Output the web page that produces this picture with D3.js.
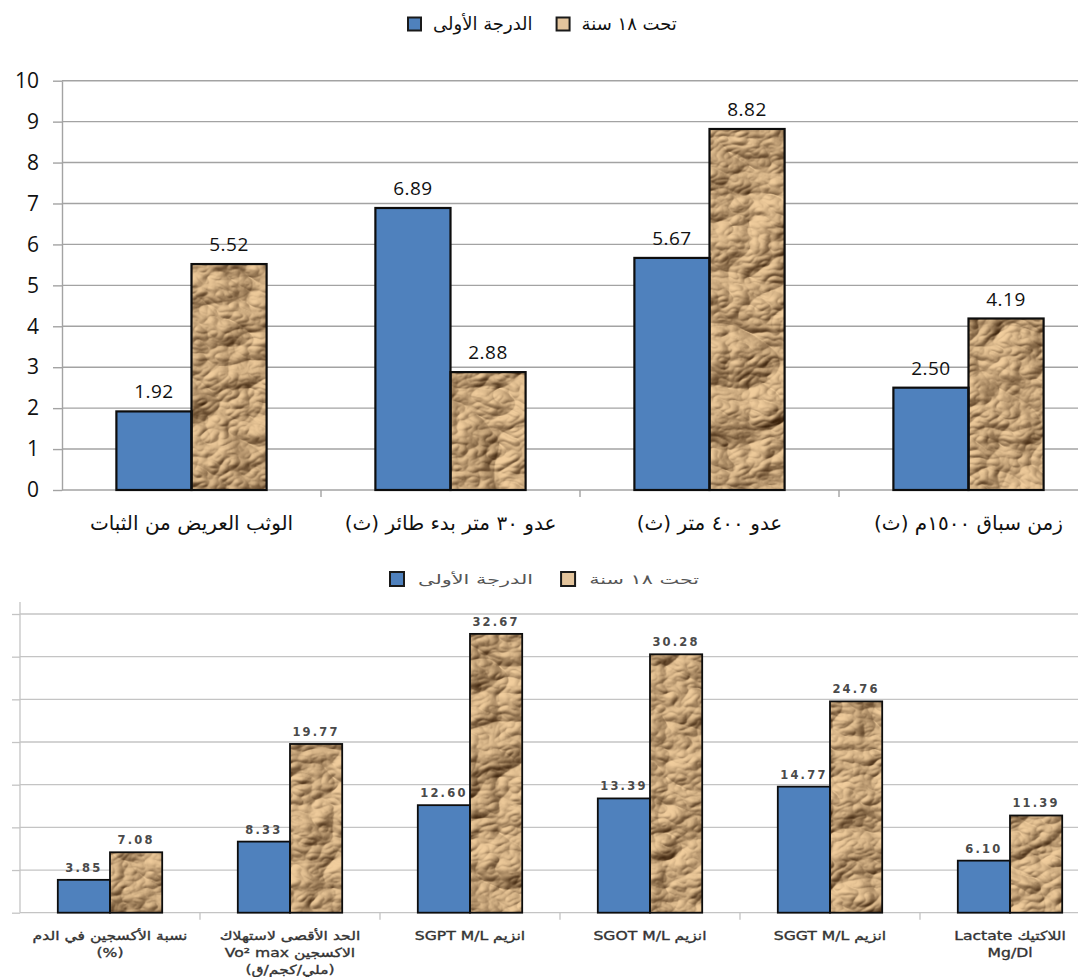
<!DOCTYPE html>
<html><head><meta charset="utf-8">
<script src="https://cdn.jsdelivr.net/npm/d3@7"></script>
<style>
html,body{margin:0;padding:0;background:#fff;overflow:hidden}
svg{display:block}
</style></head>
<body>
<script>
// ---------- DATA ----------
const seriesNames = ["الدرجة الأولى", "تحت ١٨ سنة"];

const topCategories = ["الوثب العريض من الثبات", "عدو ٣٠ متر بدء طائر (ث)", "عدو ٤٠٠ متر (ث)", "زمن سباق ١٥٠٠م (ث)"];
const topFirstDegree = [1.92, 6.89, 5.67, 2.50];
const topUnder18 = [5.52, 2.88, 8.82, 4.19];
const topTicks = [0, 1, 2, 3, 4, 5, 6, 7, 8, 9, 10];

const bottomCategories = ["O2", "VO2max", "SGPT", "SGOT", "SGGT", "Lactate"];
const bottomLabelLines = [
  ["نسبة الأكسجين في الدم", "(%)"],
  ["الحد الأقصى لاستهلاك", "الاكسجين Vo² max", "(ملي/كجم/ق)"],
  ["انزيم SGPT M/L"],
  ["انزيم SGOT M/L"],
  ["انزيم SGGT M/L"],
  ["اللاكتيك Lactate", "Mg/Dl"]
];
const bottomFirstDegree = [3.85, 8.33, 12.60, 13.39, 14.77, 6.10];
const bottomUnder18 = [7.08, 19.77, 32.67, 30.28, 24.76, 11.39];
const bottomTicks = [0, 5, 10, 15, 20, 25, 30, 35];

// ---------- SETUP ----------
const W = 1078, H = 977;
const AR = "'DejaVu Sans', 'Noto Sans', sans-serif";
const NUM = "'Open Sans', 'Noto Sans', sans-serif";
const BLUE = "#4f81bd";
const svg = d3.select("body").append("svg").attr("width", W).attr("height", H);
const defs = svg.append("defs");

const f = defs.append("filter").attr("id", "paper")
  .attr("filterUnits", "userSpaceOnUse").attr("x", 0).attr("y", 0).attr("width", W).attr("height", H)
  .attr("color-interpolation-filters", "sRGB");
f.append("feTurbulence").attr("type", "turbulence").attr("baseFrequency", "0.012 0.018")
  .attr("numOctaves", 4).attr("seed", 5).attr("result", "noise");
f.append("feDiffuseLighting").attr("in", "noise").attr("lighting-color", "#ffffff")
  .attr("surfaceScale", 10).attr("diffuseConstant", 1.0).attr("result", "light")
  .append("feDistantLight").attr("azimuth", 225).attr("elevation", 48);
const ct = f.append("feComponentTransfer").attr("in", "light").attr("result", "tint");
ct.append("feFuncR").attr("type", "table").attr("tableValues", "0.24 0.95");
ct.append("feFuncG").attr("type", "table").attr("tableValues", "0.14 0.81");
ct.append("feFuncB").attr("type", "table").attr("tableValues", "0.05 0.62");
f.append("feComposite").attr("in", "tint").attr("in2", "SourceAlpha").attr("operator", "in");

const clip = defs.append("clipPath").attr("id", "vp");
clip.append("rect").attr("x", 0).attr("y", 0).attr("width", W).attr("height", H);

function legend(g, cfg) {
  const items = g.selectAll("g.li").data(seriesNames).join("g").attr("class", "li");
  let x = cfg.x;
  items.each(function (name, i) {
    const it = d3.select(this);
    it.append("rect").attr("x", x).attr("y", cfg.y - cfg.sq / 2).attr("width", cfg.sq).attr("height", cfg.sq)
      .attr("fill", i === 0 ? BLUE : "#e3c49c").attr("stroke", "#1a1a1a").attr("stroke-width", cfg.sw);
    const tg = it.append("g");
    const t = tg.append("text").attr("x", 0).attr("y", 0).attr("dy", "0.35em").attr("direction", "rtl")
      .attr("text-anchor", "middle").attr("font-family", AR).attr("font-size", cfg.fs)
      .attr("fill", cfg.color).text(name);
    const w = t.node().getComputedTextLength() * cfg.sx;
    tg.attr("transform", `translate(${x + cfg.sq + cfg.gap + w / 2},${cfg.y}) scale(${cfg.sx},1)`);
    x = x + cfg.sq + cfg.gap + w + cfg.itemGap;
  });
}

function chart(cfg) {
  const g = svg.append("g").attr("clip-path", "url(#vp)");
  const x0 = d3.scaleBand().domain(cfg.categories).range([cfg.left, cfg.right])
    .paddingInner(0.42).paddingOuter(0.21);
  const x1 = d3.scaleBand().domain([0, 1]).range([0, x0.bandwidth()]);
  const y = d3.scaleLinear().domain(cfg.domain).range([cfg.bottom, cfg.top]);

  g.append("g").selectAll("line").data(cfg.ticks.filter(d => d > 0)).join("line")
    .attr("x1", cfg.left).attr("x2", W).attr("y1", d => y(d)).attr("y2", d => y(d))
    .attr("stroke", cfg.grid).attr("stroke-width", cfg.gridW);

  const ya = g.append("g").attr("transform", `translate(${cfg.left},0)`)
    .call(d3.axisLeft(y).tickValues(cfg.ticks).tickSize(cfg.tickLen).tickSizeOuter(0).tickPadding(cfg.tickPad)
      .tickFormat(cfg.showYLabels ? d3.format("d") : () => ""));
  ya.select(".domain").attr("stroke", cfg.grid).attr("stroke-width", cfg.gridW);
  if (cfg.axisTop !== undefined) ya.select(".domain").attr("d", `M0,${cfg.axisTop}V${cfg.bottom}`);
  ya.selectAll(".tick line").attr("stroke", cfg.grid).attr("stroke-width", cfg.gridW);
  ya.selectAll(".tick text").attr("font-family", NUM).attr("font-size", cfg.yfs).attr("fill", "#111");

  g.append("line").attr("x1", cfg.left).attr("x2", W).attr("y1", cfg.bottom).attr("y2", cfg.bottom)
    .attr("stroke", cfg.grid).attr("stroke-width", cfg.gridW);
  g.append("g").selectAll("line").data(cfg.categories.slice(1)).join("line")
    .attr("x1", d => x0(d) - x0.step() * x0.paddingInner() / 2)
    .attr("x2", d => x0(d) - x0.step() * x0.paddingInner() / 2)
    .attr("y1", cfg.bottom).attr("y2", cfg.bottom + 7)
    .attr("stroke", cfg.grid).attr("stroke-width", cfg.gridW);

  const rows = cfg.categories.map((c, i) => [
    { c, s: 0, v: cfg.a[i] }, { c, s: 1, v: cfg.b[i] }
  ]).flat();

  const bars = g.append("g");
  bars.selectAll("rect.fill").data(rows).join("rect").attr("class", "fill")
    .attr("x", d => x0(d.c) + x1(d.s)).attr("width", x1.bandwidth())
    .attr("y", d => y(d.v)).attr("height", d => y(0) - y(d.v))
    .attr("fill", d => d.s === 0 ? BLUE : "#c9a67c")
    .attr("filter", d => d.s === 1 ? "url(#paper)" : null);
  bars.selectAll("rect.edge").data(rows).join("rect").attr("class", "edge")
    .attr("x", d => x0(d.c) + x1(d.s)).attr("width", x1.bandwidth())
    .attr("y", d => y(d.v)).attr("height", d => y(0) - y(d.v))
    .attr("fill", "none").attr("stroke", "#0d0d0d").attr("stroke-width", cfg.barStroke);

  g.append("g").selectAll("text").data(rows).join("text")
    .attr("x", d => x0(d.c) + x1(d.s) + x1.bandwidth() / 2)
    .attr("y", d => y(d.v) - cfg.labelOff)
    .attr("text-anchor", "middle").attr("font-family", cfg.labelFont).attr("font-size", cfg.labelFs)
    .attr("font-weight", cfg.labelWeight).attr("letter-spacing", cfg.labelLS).attr("fill", cfg.labelColor)
    .text(d => d3.format(".2f")(d.v));

  return { g, x0, y };
}

// ---------- TOP CHART ----------
legend(svg.append("g"), { x: 408, y: 24, sq: 13, sw: 2, gap: 12, itemGap: 24, fs: 18, sx: 1, color: "#111" });

const topChart = chart({
  categories: topCategories, a: topFirstDegree, b: topUnder18, ticks: topTicks,
  domain: [0, 10], left: 62, right: 62 + 4 * 259, top: 80.7, bottom: 490,
  grid: "#a3a3a3", gridW: 1.4, tickLen: 9, tickPad: 14, yfs: 21, showYLabels: true,
  barStroke: 2.2, labelOff: 13, labelFont: NUM, labelFs: 19, labelWeight: 400, labelLS: 0.5, labelColor: "#111"
});
topChart.g.append("g").selectAll("text").data(topCategories).join("text")
  .attr("x", d => topChart.x0(d) + topChart.x0.bandwidth() / 2).attr("y", 530)
  .attr("direction", "rtl").attr("text-anchor", "middle")
  .attr("font-family", AR).attr("font-size", 20).attr("fill", "#111").text(d => d);

// ---------- BOTTOM CHART ----------
legend(svg.append("g"), { x: 390, y: 579, sq: 14, sw: 2, gap: 14, itemGap: 28, fs: 13, sx: 1.6, color: "#555" });

const botChart = chart({
  categories: bottomCategories, a: bottomFirstDegree, b: bottomUnder18, ticks: bottomTicks,
  domain: [0, 35], left: 20, right: 20 + 6 * 180, top: 614, bottom: 912.7, axisTop: 602,
  grid: "#c4c4c4", gridW: 1.3, tickLen: 8, tickPad: 4, yfs: 11, showYLabels: false,
  barStroke: 1.8, labelOff: 8, labelFont: "'DejaVu Sans', sans-serif", labelFs: 11.5, labelWeight: 700,
  labelLS: 2.2, labelColor: "#4a4a4a"
});
const lab = botChart.g.append("g").selectAll("g").data(bottomCategories).join("g")
  .attr("transform", d => `translate(${botChart.x0(d) + botChart.x0.bandwidth() / 2},0) scale(1.25,1)`);
lab.each(function (d, i) {
  d3.select(this).selectAll("text").data(bottomLabelLines[i]).join("text")
    .attr("x", 0).attr("y", (t, j) => 940 + j * 17)
    .attr("direction", "rtl").attr("text-anchor", "middle")
    .attr("font-family", AR).attr("font-size", 12.5).attr("font-weight", 400)
    .attr("stroke", "#333").attr("stroke-width", 0.35)
    .attr("fill", "#333").text(t => t);
});
</script>
</body></html>
